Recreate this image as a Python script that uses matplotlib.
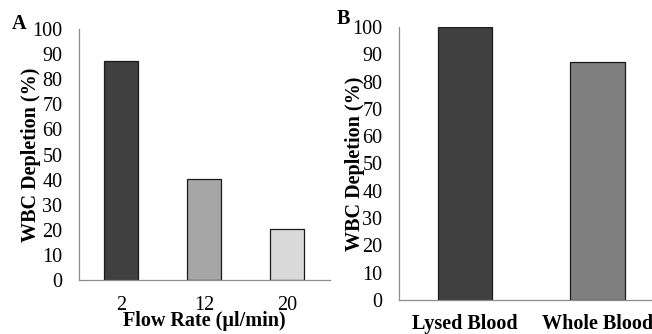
import matplotlib.pyplot as plt

plt.rcParams['font.family'] = ['Liberation Serif', 'DejaVu Serif']

# Panel A: depletion vs flow rate
flow_rates = ['2', '12', '20']
depletion_a = [87.2, 40.3, 20.4]
colors_a = ['#404040', '#a6a6a6', '#d9d9d9']

# Panel B: lysed vs whole blood
blood_types = ['Lysed Blood', 'Whole Blood']
depletion_b = [100, 87]
colors_b = ['#404040', '#7f7f7f']

W, H = 652, 334
FS = 14.5
fig = plt.figure(figsize=(W / 100, H / 100), dpi=100)


def estilo(ax):
	for lado in ['top', 'right']:
		ax.spines[lado].set_visible(False)
	for lado in ['left', 'bottom']:
		ax.spines[lado].set_color('#8c8c8c')
		ax.spines[lado].set_linewidth(0.9)
	ax.set_ylim(0, 100)
	ax.set_yticks(range(0, 101, 10))
	ax.tick_params(axis='both', length=0, labelsize=FS)
	ax.tick_params(axis='y', pad=12)


# Grafica A
ax1 = fig.add_axes([79 / W, 54 / H, 251 / W, 251 / H])
ax1.bar(range(len(flow_rates)), depletion_a, width=0.41, color=colors_a, edgecolor='#1a1a1a', linewidth=0.9)
ax1.set_xticks(range(len(flow_rates)))
ax1.set_xticklabels(flow_rates)
ax1.set_xlim(-0.506, 2.518)
estilo(ax1)
ax1.tick_params(axis='x', pad=11.5)
ax1.set_xlabel('Flow Rate (µl/min)', fontsize=FS, fontweight='bold', labelpad=-3)
ax1.set_ylabel('WBC Depletion (%)', fontsize=FS, fontweight='bold', labelpad=-6)
fig.text(12 / W, 1 - 24 / H, 'A', fontsize=FS, fontweight='bold', va='center')

# Grafica B
ax2 = fig.add_axes([399 / W, 34 / H, 253 / W, 273 / H])
ax2.bar(range(len(blood_types)), depletion_b, width=0.41, color=colors_b, edgecolor='#1a1a1a', linewidth=0.9)
ax2.set_xticks(range(len(blood_types)))
ax2.set_xticklabels(blood_types, fontweight='bold')
ax2.set_xlim(-0.498, 1.41)
estilo(ax2)
ax2.tick_params(axis='x', pad=10)
ax2.set_ylabel('WBC Depletion (%)', fontsize=FS, fontweight='bold', labelpad=-9)
fig.text(337 / W, 1 - 19 / H, 'B', fontsize=FS, fontweight='bold', va='center')

fig.savefig('out.png', dpi=100)
